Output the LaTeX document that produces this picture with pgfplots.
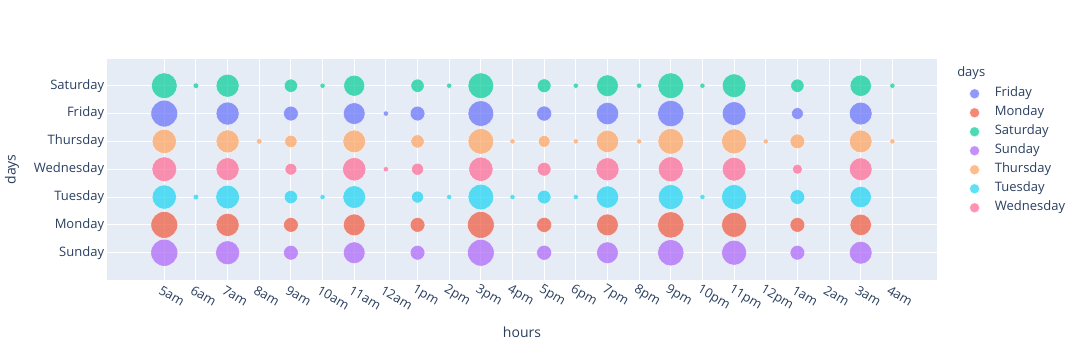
\documentclass[border=0pt]{standalone}
\usepackage{pgfplots}
\pgfplotsset{compat=1.18}
\usepackage{pgfplotstable}
\usepackage{fontspec}
\setmainfont{Open Sans}
\definecolor{txt}{HTML}{2A3F5F}
\definecolor{bg}{HTML}{E5ECF6}
\definecolor{cFri}{HTML}{636EFA}
\definecolor{cMon}{HTML}{EF553B}
\definecolor{cSat}{HTML}{00CC96}
\definecolor{cSun}{HTML}{AB63FA}
\definecolor{cThu}{HTML}{FFA15A}
\definecolor{cTue}{HTML}{19D3F3}
\definecolor{cWed}{HTML}{FF6692}

% x: 0=5am ... 23=4am ; d: bubble diameter in px
\pgfplotstableread{
x d
0 26.7
2 23
4 14.7
6 21.7
7 5.3
8 14.7
10 25.7
12 15
14 22.3
16 26.3
18 23.7
20 11.7
22 22.7
}\fri
\pgfplotstableread{
x d
0 26.7
2 23
4 14.7
6 21.7
8 14.7
10 26.7
12 15
14 21.7
16 26.3
18 25
20 14.7
22 21.3
}\mon
\pgfplotstableread{
x d
0 25.7
1 5.7
2 23
4 13.3
5 5.3
6 21
8 13.3
9 5.3
10 25.7
12 13.7
13 5.3
14 21.7
15 5.3
16 25.7
17 5.3
18 23.7
20 13.3
22 21.3
23 5.3
}\sat
\pgfplotstableread{
x d
0 27
2 24
4 14.7
6 21.7
8 14.7
10 26.7
12 15
14 21.7
16 26.3
18 25
20 14.7
22 22.7
}\sun
\pgfplotstableread{
x d
0 24.3
2 23
3 5.7
4 12.3
6 22.7
8 13.3
10 25.7
11 5.3
12 11.7
13 5.3
14 22.3
15 5.3
16 25.7
18 25
19 5.3
20 14.7
22 22.7
23 5.3
}\thu
\pgfplotstableread{
x d
0 24.3
1 5.7
2 23.7
4 13.3
5 5.3
6 22.7
8 12
9 5.3
10 25.7
11 5.3
12 13.7
13 5.3
14 22.3
16 25
17 5.3
18 25
20 14.7
22 21.3
}\tue
\pgfplotstableread{
x d
0 24.7
2 23
4 11.7
6 23.3
7 5.3
8 12
10 24.3
12 13.7
14 23
16 25
18 23.7
20 10
22 22.7
}\wed

\pgfplotsset{
  bubble/.style={
    only marks, scatter, mark=*,
    scatter/use mapped color={draw=white, fill=#1, fill opacity=0.7, draw opacity=0.7, line width=0.375pt},
    visualization depends on={0.375*\thisrow{d} \as \perpointmarksize},
    scatter/@pre marker code/.append style={/tikz/mark size=\perpointmarksize},
    legend image code/.code={\draw[white, line width=0.375pt, fill=#1, fill opacity=0.7, draw opacity=0.7] (0pt,0pt) circle (3.75pt);}
  }
}

\begin{document}
\begin{tikzpicture}
\path[use as bounding box] (0,0) rectangle (810.75pt,270pt);
\begin{axis}[
  at={(80.25pt,60pt)}, anchor=south west,
  scale only axis, width=622.5pt, height=165.75pt,
  xmin=-1.81, xmax=24.41, ymin=-0.98, ymax=6.96,
  xtick={0,...,23},
  xticklabels={5am,6am,7am,8am,9am,10am,11am,12am,1pm,2pm,3pm,4pm,5pm,6pm,7pm,8pm,9pm,10pm,11pm,12pm,1am,2am,3am,4am},
  ytick={0,...,6},
  yticklabels={Sunday,Monday,Tuesday,Wednesday,Thursday,Friday,Saturday},
  major tick length=0pt,
  axis line style={draw=none},
  axis background/.style={fill=bg},
  xmajorgrids, ymajorgrids,
  major grid style={white, line width=0.75pt},
  tick label style={font=\fontsize{9.75}{11}\selectfont, text=txt},
  yticklabel style={anchor=east, inner sep=0pt, xshift=-2pt},
  xticklabel style={xshift=-3.2pt, yshift=-6.75pt, rotate=-30, anchor=west, inner sep=0pt},
  xlabel={hours}, ylabel={days},
  label style={font=\fontsize{10.5}{12}\selectfont, text=txt},
  xlabel style={at={(axis description cs:0.5,-0.235)}, anchor=center},
  ylabel style={at={(axis description cs:-0.1145,0.5)}, anchor=center},
  legend style={at={(axis description cs:1.0386,0.871)}, anchor=north west,
    draw=none, fill=none, inner sep=0pt,
    font=\fontsize{9.75}{11}\selectfont, text=txt,
    row sep=5.25pt, column sep=11.25pt,
    nodes={inner sep=0pt, text height=6.75pt, text depth=2.25pt}},
  legend cell align=left,
  clip=false,
]
\addplot[bubble=cFri] table[x=x, y expr=5] {\fri};
\addlegendentry{Friday}
\addplot[bubble=cMon] table[x=x, y expr=1] {\mon};
\addlegendentry{Monday}
\addplot[bubble=cSat] table[x=x, y expr=6] {\sat};
\addlegendentry{Saturday}
\addplot[bubble=cSun] table[x=x, y expr=0] {\sun};
\addlegendentry{Sunday}
\addplot[bubble=cThu] table[x=x, y expr=4] {\thu};
\addlegendentry{Thursday}
\addplot[bubble=cTue] table[x=x, y expr=2] {\tue};
\addlegendentry{Tuesday}
\addplot[bubble=cWed] table[x=x, y expr=3] {\wed};
\addlegendentry{Wednesday}
\node[anchor=west, inner sep=0pt, font=\fontsize{9.75}{11}\selectfont, text=txt] at (axis description cs:1.0241,0.9367) {days};
\end{axis}
\end{tikzpicture}
\end{document}
